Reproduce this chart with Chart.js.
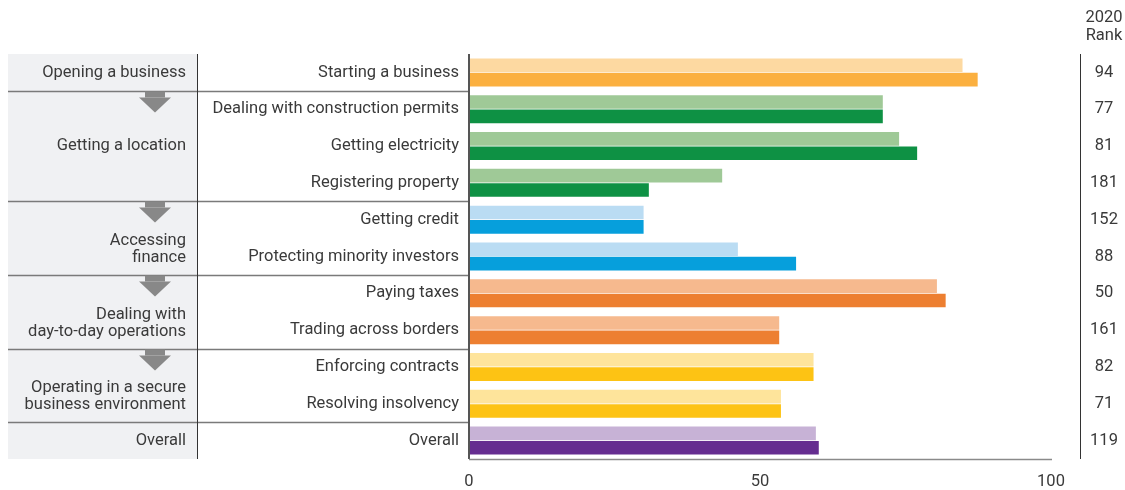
<!DOCTYPE html>
<html>
<head>
<meta charset="utf-8">
<script src="https://cdn.jsdelivr.net/npm/chart.js@4"></script>
<style>
  html, body { margin: 0; padding: 0; background: #fff; }
  #wrap { width: 1125px; height: 490px; position: relative; }
</style>
</head>
<body>
<div id="wrap"><canvas id="dbChart"></canvas></div>
<script>
// ---- data ----
const topics = [
  'Starting a business', 'Dealing with construction permits', 'Getting electricity',
  'Registering property', 'Getting credit', 'Protecting minority investors',
  'Paying taxes', 'Trading across borders', 'Enforcing contracts',
  'Resolving insolvency', 'Overall'
];
const scorePrev = [84.8, 71.1, 73.9, 43.5, 30.0, 46.2, 80.4, 53.3, 59.2, 53.6, 59.6];
const scoreNow  = [87.4, 71.1, 77.0, 30.9, 30.0, 56.2, 81.9, 53.3, 59.2, 53.6, 60.1];
const ranks     = ['94', '77', '81', '181', '152', '88', '50', '161', '82', '71', '119'];

// groups: label lines, first row, last row
const groupNames = [
  ['Opening a business'],
  ['Getting a location'],
  ['Accessing', 'finance'],
  ['Dealing with', 'day-to-day operations'],
  ['Operating in a secure', 'business environment'],
  ['Overall']
];
const groupFirst = [0, 1, 4, 6, 8, 10];
const groupLast  = [0, 3, 5, 7, 9, 10];
const rankHeader = ['2020', 'Rank'];
const xTicks = [0, 50, 100];

const COLORS = {
  lightByGroup: ['#fdd9a1', '#9fc997', '#badcf3', '#f6b98e', '#fee49b', '#c7b2d6'],
  darkByGroup:  ['#fbb040', '#0e9144', '#069fdc', '#ed7f31', '#fdc314', '#652d90'],
  text:     '#3a3a3a',
  panel:    '#f0f1f3',
  rule:     '#7a7a7a',
  arrow:    '#888888',
  axis:     '#555555',
};

function groupOf(i) {
  return groupFirst.findIndex((f, g) => i >= f && i <= groupLast[g]);
}
const lightCols = topics.map((_, i) => COLORS.lightByGroup[groupOf(i)]);
const darkCols  = topics.map((_, i) => COLORS.darkByGroup[groupOf(i)]);

const FONT = "Roboto, 'Noto Sans', sans-serif";
const FS = 16.5;
Chart.defaults.font.family = FONT;
Chart.defaults.font.size = FS;
Chart.defaults.color = COLORS.text;

// ---- side panels: groups, labels, arrows, rank column ----
const sidePanels = {
  id: 'sidePanels',
  beforeDatasetsDraw(chart) {
    const { ctx, chartArea: a, scales: { y } } = chart;
    const half = (y.getPixelForValue(1) - y.getPixelForValue(0)) / 2;
    const rowTop = i => y.getPixelForValue(i) - half;
    const rowBot = i => y.getPixelForValue(i) + half;
    const panelL = 8, panelR = 197;

    ctx.save();
    // grey group column
    ctx.fillStyle = COLORS.panel;
    ctx.fillRect(panelL, a.top, panelR - panelL, a.bottom - a.top);

    // separators between groups, with a down arrow where the flow continues
    ctx.strokeStyle = COLORS.rule;
    ctx.lineWidth = 1.5;
    for (let g = 1; g < groupFirst.length; g++) {
      const yy = Math.round(rowTop(groupFirst[g])) + 0.5;
      ctx.beginPath();
      ctx.moveTo(panelL, yy);
      ctx.lineTo(a.left, yy);
      ctx.stroke();

      if (g === groupFirst.length - 1) continue;
      const cx = 155;
      ctx.fillStyle = COLORS.arrow;
      ctx.fillRect(cx - 10, yy, 20, 6);
      ctx.beginPath();
      ctx.moveTo(cx - 16, yy + 6);
      ctx.lineTo(cx + 16, yy + 6);
      ctx.lineTo(cx, yy + 21);
      ctx.closePath();
      ctx.fill();
    }

    // divider between group column and topic column
    ctx.strokeStyle = '#333';
    ctx.lineWidth = 1;
    ctx.beginPath();
    ctx.moveTo(panelR + 0.5, a.top);
    ctx.lineTo(panelR + 0.5, a.bottom);
    ctx.stroke();

    // group labels
    ctx.fillStyle = COLORS.text;
    ctx.font = FS + 'px ' + FONT;
    ctx.textAlign = 'right';
    ctx.textBaseline = 'middle';
    groupNames.forEach((lines, g) => {
      const mid = (rowTop(groupFirst[g]) + rowBot(groupLast[g])) / 2;
      const y0 = mid + (lines.length - 1) * 3;
      lines.forEach((t, k) => ctx.fillText(t, 186, y0 + k * 17));
    });

    // topic labels
    topics.forEach((t, i) => ctx.fillText(t, 459, y.getPixelForValue(i)));

    // rank column
    ctx.textAlign = 'center';
    ranks.forEach((r, i) => ctx.fillText(r, 1104, y.getPixelForValue(i)));
    rankHeader.forEach((t, k) => ctx.fillText(t, 1104, 18 + k * 18));
    ctx.strokeStyle = '#333';
    ctx.beginPath();
    ctx.moveTo(1080.5, a.top);
    ctx.lineTo(1080.5, a.bottom);
    ctx.stroke();

    ctx.restore();
  },
  afterDatasetsDraw(chart) {
    const { ctx, chartArea: a } = chart;
    ctx.save();
    // left axis line
    ctx.strokeStyle = COLORS.axis;
    ctx.lineWidth = 2;
    ctx.beginPath();
    ctx.moveTo(a.left, a.top);
    ctx.lineTo(a.left, a.bottom);
    ctx.stroke();
    // bottom axis line
    ctx.strokeStyle = '#8a8a8a';
    ctx.lineWidth = 1.5;
    ctx.beginPath();
    ctx.moveTo(a.left, a.bottom + 0.5);
    ctx.lineTo(a.right + 1, a.bottom + 0.5);
    ctx.stroke();
    ctx.restore();
  }
};

new Chart(document.getElementById('dbChart'), {
  type: 'bar',
  data: {
    labels: topics,
    datasets: [
      {
        label: 'Previous',
        data: scorePrev,
        backgroundColor: lightCols,
        borderWidth: 0,
        categoryPercentage: 0.78,
        barPercentage: 0.95,
      },
      {
        label: 'DB2020',
        data: scoreNow,
        backgroundColor: darkCols,
        borderWidth: 0,
        categoryPercentage: 0.78,
        barPercentage: 0.95,
      }
    ]
  },
  options: {
    indexAxis: 'y',
    responsive: true,
    maintainAspectRatio: false,
    animation: false,
    layout: { padding: { left: 469, right: 74, top: 54, bottom: 0 } },
    plugins: {
      legend: { display: false },
      tooltip: { enabled: false },
    },
    scales: {
      x: {
        min: 0,
        max: 100,
        afterBuildTicks(scale) { scale.ticks = xTicks.map(v => ({ value: v })); },
        afterFit(scale) { scale.height = 31; },
        grid: { display: false, drawTicks: false },
        border: { display: false },
        ticks: { padding: 13, color: COLORS.text, font: { size: FS } },
      },
      y: {
        display: false,
      }
    }
  },
  plugins: [sidePanels]
});
</script>
</body>
</html>
